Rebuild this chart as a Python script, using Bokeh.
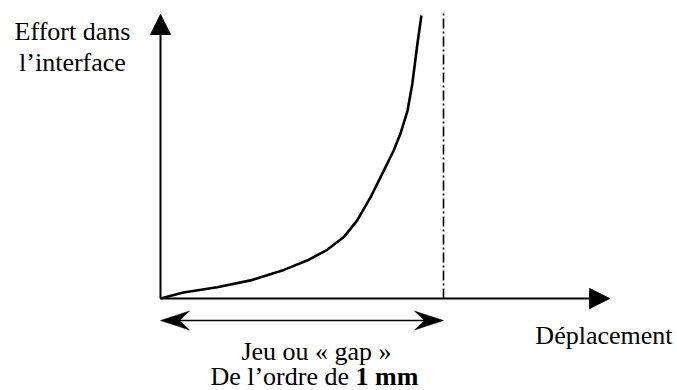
from bokeh.plotting import figure
from bokeh.models import Range1d, Arrow, NormalHead
from bokeh.core.properties import value
from bokeh.embed import file_html
from bokeh.resources import INLINE

# ---- data (displacement in mm, effort normalised) ----
disp = [0.0, 0.081, 0.200, 0.318, 0.436, 0.518, 0.589, 0.648, 0.695, 0.742,
        0.789, 0.824, 0.848, 0.873, 0.890, 0.908, 0.922]
effort = [0.0, 0.021, 0.040, 0.064, 0.101, 0.134, 0.172, 0.217, 0.276, 0.357,
          0.452, 0.523, 0.583, 0.664, 0.760, 0.901, 1.0]
gap = 1.0            # mm, position of the asymptote / gap
x_axis_end = 1.587
y_axis_end = 1.0035

y_label = ["Effort dans", "l\u2019interface"]
x_label = "D\u00e9placement"
gap_line1 = "Jeu ou \u00ab gap \u00bb"
gap_line2_normal = "De l\u2019ordre de"
gap_line2_bold = "1 mm"

# ---- layout ----
W, H = 677, 390
PX = 283.0             # pixels per data unit
OX, OY = 160.0, 298.0  # origin position in canvas pixels
FONT = value("Liberation Serif")
FS = "26px"

p = figure(width=W, height=H, output_backend="svg", toolbar_location=None,
           x_range=Range1d(-OX / PX, (W - OX) / PX),
           y_range=Range1d((OY - H) / PX, OY / PX),
           x_axis_type=None, y_axis_type=None, min_border=0)
p.grid.visible = False
p.outline_line_color = None
p.background_fill_color = "white"
p.border_fill_color = "white"

# axes with arrows
p.add_layout(Arrow(x_start=0, y_start=0, x_end=0, y_end=y_axis_end,
                   line_width=2, line_color="black",
                   end=NormalHead(size=20, fill_color="black", line_color="black", line_width=1)))
p.add_layout(Arrow(x_start=0, y_start=0, x_end=x_axis_end, y_end=0,
                   line_width=2, line_color="black",
                   end=NormalHead(size=20, fill_color="black", line_color="black", line_width=1)))

# dash-dot asymptote at the gap
p.line([gap, gap], [0, 1.007], line_color="black", line_width=1.6, line_dash="10 3 2 3")

# effort curve
p.line(disp, effort, line_color="black", line_width=2.6, line_join="round")

# double arrow for the gap
ya = -22 / PX
L, hw, n = 29 / PX, 9.5 / PX, 10 / PX
p.line([0.01, gap - 0.01], [ya, ya], line_color="black", line_width=1.7)
p.patch([0, L, L - n, L], [ya, ya + hw, ya, ya - hw], fill_color="black", line_color="black", line_width=0.5)
p.patch([gap, gap - L, gap - L + n, gap - L], [ya, ya + hw, ya, ya - hw], fill_color="black", line_color="black", line_width=0.5)

# texts
common = dict(text_font=FONT, text_font_size=FS, text_baseline="alphabetic", text_color="black")
p.text(x=[(72 - OX) / PX] * 2, y=[(OY - 31) / PX, (OY - 62) / PX], text=y_label,
       text_align="center", **common)
p.text(x=[(672 - OX) / PX], y=[(OY - 335) / PX], text=[x_label],
       text_align="right", **common)
p.text(x=[(316 - OX) / PX], y=[(OY - 351) / PX], text=[gap_line1],
       text_align="center", **common)
p.text(x=[(348.5 - OX) / PX], y=[(OY - 376) / PX], text=[gap_line2_normal],
       text_align="right", **common)
p.text(x=[(355 - OX) / PX], y=[(OY - 376) / PX], text=[gap_line2_bold],
       text_font_style="bold", text_align="left", **common)

open("out.html", "w").write(file_html(p, INLINE))
